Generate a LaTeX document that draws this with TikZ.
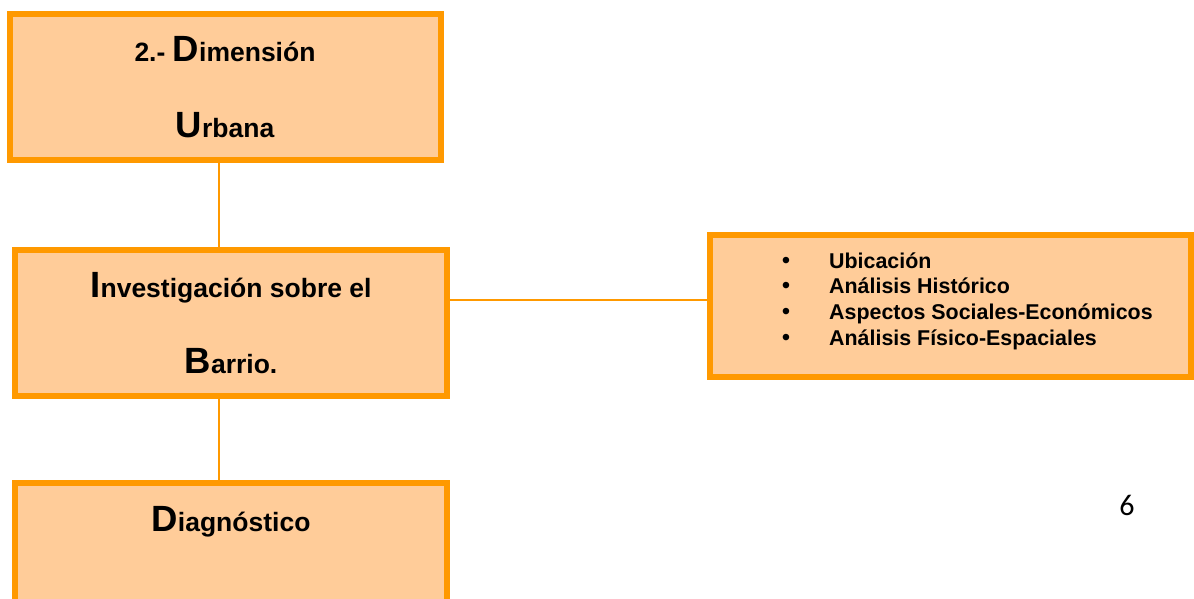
\documentclass[tikz,border=0pt]{standalone}
\usepackage{fontspec}
\setmainfont{Liberation Sans}
\newfontfamily\pagefont{Carlito}
\definecolor{boxfill}{HTML}{FFCC99}
\definecolor{boxline}{HTML}{FF9900}
\newcommand{\sm}{\fontsize{26.5}{30}\selectfont}
\newcommand{\bg}{\fontsize{36.5}{40}\selectfont}
\newcommand{\li}{\fontsize{21.4}{25}\selectfont}
\tikzset{
  orbox/.style={draw=boxline, fill=boxfill, line width=6pt, rectangle, inner sep=0pt},
  conn/.style={draw=boxline, line width=1.6pt},
  lbl/.style={anchor=base, inner sep=0pt, font=\bfseries},
  item/.style={anchor=base west, inner sep=0pt, font=\bfseries\li},
  bul/.style={anchor=base, inner sep=0pt, font=\fontsize{24}{26}\selectfont}
}
\begin{document}
\begin{tikzpicture}[x=1pt,y=-1pt]
\useasboundingbox (0,0) rectangle (1194,598);
\clip (0,0) rectangle (1194,598);
% boxes
\node[orbox, minimum width=431pt, minimum height=146pt] (b1) at (225.5,87) {};
\node[orbox, minimum width=432pt, minimum height=146pt] (b2) at (231,323) {};
\node[orbox, minimum width=481pt, minimum height=142pt] (b3) at (950.5,306) {};
\node[orbox, minimum width=432pt, minimum height=130pt] (b4) at (231,548) {};
% connectors
\draw[conn] (b1.south -| 219,0) coordinate (c1) -- (b2.north -| c1);
\draw[conn] (b2.south -| 219,0) coordinate (c2) -- (b4.north -| c2);
\draw[conn] (b2.east |- 0,300) coordinate (c3) -- (b3.west |- c3);
% texts
\node[lbl] (t1) at (225,61) {\sm 2.- \bg D\sm imensión};
\node[lbl] (t2) at (225,137) {\bg U\sm rbana};
\node[lbl] (t3) at (231,297) {\bg I\sm nvestigación sobre el};
\node[lbl] (t4) at (231,373) {\bg B\sm arrio.};
\node[lbl] (t5) at (231,531) {\bg D\sm iagnóstico};
% list
\node[bul] (u1) at (786,268) {\textbullet};
\node[bul] (u2) at (786,293) {\textbullet};
\node[bul] (u3) at (786,319) {\textbullet};
\node[bul] (u4) at (786,345) {\textbullet};
\node[item] (i1) at (829,268) {Ubicación};
\node[item] (i2) at (829,293) {Análisis Histórico};
\node[item] (i3) at (829,319) {Aspectos Sociales-Económicos};
\node[item] (i4) at (829,345) {Análisis Físico-Espaciales};
% page number
\node[anchor=base, inner sep=0pt, font=\pagefont\fontsize{30}{32}\selectfont] (pg) at (1127,515) {6};
\end{tikzpicture}
\end{document}
